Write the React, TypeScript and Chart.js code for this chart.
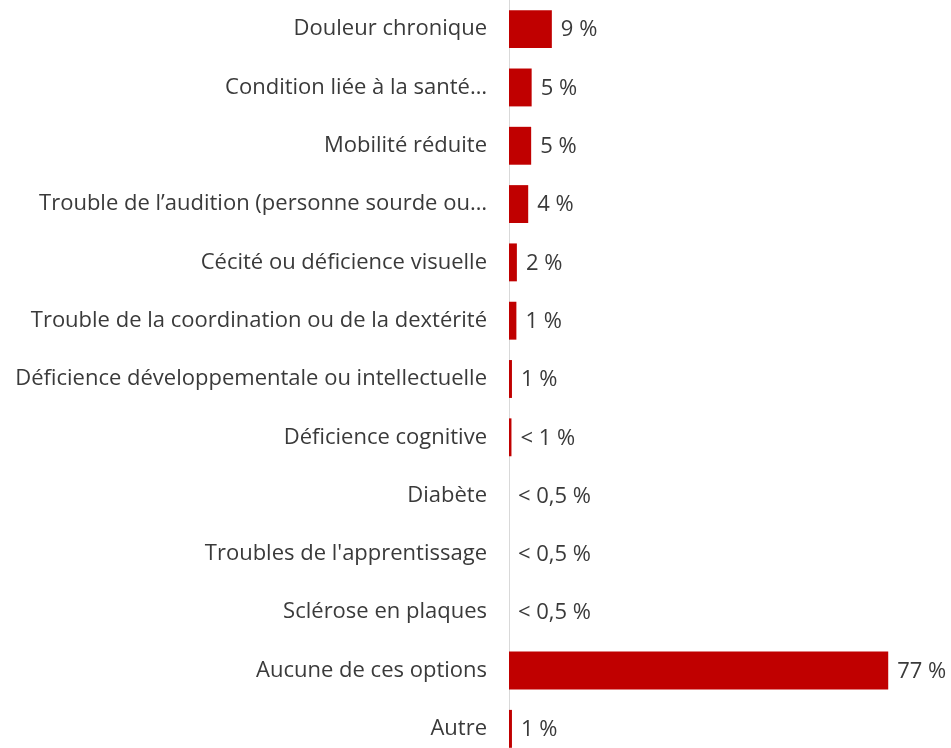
import React, { useEffect, useRef } from "react";
import { Chart, registerables } from "chart.js";

Chart.register(...registerables);

const categories = [
  "Douleur chronique",
  "Condition liée à la santé…",
  "Mobilité réduite",
  "Trouble de l’audition (personne sourde ou…",
  "Cécité ou déficience visuelle",
  "Trouble de la coordination ou de la dextérité",
  "Déficience développementale ou intellectuelle",
  "Déficience cognitive",
  "Diabète",
  "Troubles de l'apprentissage",
  "Sclérose en plaques",
  "Aucune de ces options",
  "Autre",
];

const values = [8.7, 4.6, 4.5, 3.9, 1.6, 1.5, 0.6, 0.5, 0, 0, 0, 77.0, 0.6];

const valueLabels = [
  "9 %",
  "5 %",
  "5 %",
  "4 %",
  "2 %",
  "1 %",
  "1 %",
  "< 1 %",
  "< 0,5 %",
  "< 0,5 %",
  "< 0,5 %",
  "77 %",
  "1 %",
];

const FONT = "'Open Sans', 'Noto Sans', sans-serif";
const FONT_SIZE = 22;

const labelPlugin = {
  id: "valueLabels",
  afterDatasetsDraw(chart: any) {
    const ctx = chart.ctx;
    const meta = chart.getDatasetMeta(0);
    ctx.save();
    ctx.font = `${FONT_SIZE}px ${FONT}`;
    ctx.fillStyle = "#3a3a3a";
    ctx.textAlign = "left";
    ctx.textBaseline = "middle";
    meta.data.forEach((bar: any, i: number) => {
      ctx.fillText(valueLabels[i], bar.x + 9, bar.y + 1);
    });
    ctx.restore();
  },
};

export default function App() {
  const ref = useRef<HTMLCanvasElement>(null);
  useEffect(() => {
    if (!ref.current) return;
    const chart = new Chart(ref.current, {
      type: "bar",
      data: {
        labels: categories,
        datasets: [
          {
            data: values,
            backgroundColor: "#C00000",
            borderWidth: 0,
            categoryPercentage: 1,
            barPercentage: 0.65,
          },
        ],
      },
      options: {
        indexAxis: "y",
        animation: false,
        responsive: false,
        maintainAspectRatio: false,
        layout: { padding: { left: 0, right: 48, top: 0, bottom: 0 } },
        plugins: {
          legend: { display: false },
          tooltip: { enabled: false },
        },
        scales: {
          x: {
            min: 0,
            max: 80,
            display: false,
            grid: { display: false },
          },
          y: {
            grid: { display: false, drawTicks: false },
            border: { display: true, color: "#d9d9d9", width: 1 },
            ticks: {
              color: "#3a3a3a",
              font: { family: FONT, size: FONT_SIZE },
              padding: 22,
              autoSkip: false,
            },
            afterFit: (scale: any) => {
              scale.width = 509;
              scale.paddingTop = 0;
              scale.paddingBottom = 0;
            },
          },
        },
      },
      plugins: [labelPlugin],
    });
    return () => chart.destroy();
  }, []);
  return (
    <div
      style={{
        position: "fixed",
        left: 0,
        top: 0,
        width: 951,
        height: 748,
        overflow: "hidden",
        background: "#fff",
      }}
    >
      <canvas ref={ref} width={951} height={758} style={{ display: "block" }} />
    </div>
  );
}
